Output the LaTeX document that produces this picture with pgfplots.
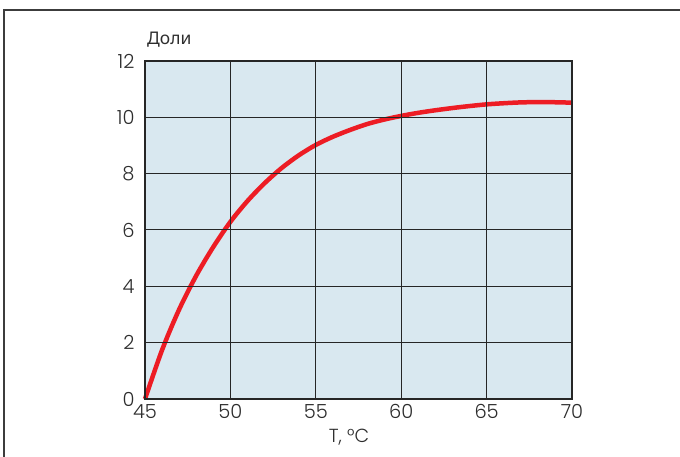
\documentclass[border=0pt]{standalone}
\usepackage{fontspec}
\setmainfont{Poppins Light}
\newfontfamily\cyr{Noto Sans}
\usepackage{pgfplots}
\pgfplotsset{compat=1.18}
\definecolor{bgblue}{RGB}{217,232,240}
\definecolor{curvered}{RGB}{237,28,36}
\definecolor{framegray}{RGB}{60,60,60}
\definecolor{txt}{RGB}{45,45,45}
\begin{document}
\begin{tikzpicture}[x=1bp,y=1bp]
\path[use as bounding box] (0,0) rectangle (680,457);
\draw[framegray, line width=1.3bp] (4,0) -- (4,447) -- (680,447);
\begin{axis}[
  at={(145bp,58bp)}, anchor=south west,
  scale only axis, width=427bp, height=338bp,
  xmin=45, xmax=70, ymin=0, ymax=12,
  xtick={45,50,...,70}, ytick={0,2,...,12},
  axis background/.style={fill=bgblue},
  grid=major,
  major grid style={black!85, line width=1bp},
  axis line style={black!85, line width=1.8bp},
  major tick length=0pt,
  tick label style={font=\fontsize{19.5}{22}\selectfont, text=txt},
  /pgf/number format/assume math mode=true,
  xticklabel style={yshift=-2bp},
  yticklabel style={xshift=-7bp},
  axis on top,
  clip=false,
]
\addplot[curvered, line width=4.5bp, smooth, tension=0.5] coordinates {
(45,0) (46,1.74) (47,3.18) (48,4.38) (49,5.40) (50,6.29) (51,7.03) (52,7.66)
(53,8.20) (54,8.65) (55,9.02) (56,9.31) (57,9.55) (58,9.76) (59,9.92)
(60,10.05) (61,10.16) (62,10.25) (63,10.33) (64,10.40) (65,10.46) (66,10.50)
(67,10.53) (68,10.54) (69,10.535) (70,10.52)
};
\end{axis}
\node[anchor=base west, text=txt, font=\cyr\fontsize{17.5}{20}\selectfont, inner sep=0pt] at (147,412) {Доли};
\node[anchor=base, text=txt, font=\fontsize{19}{22}\selectfont, inner sep=0pt] at (349,14) {T, °C};
\end{tikzpicture}
\end{document}
